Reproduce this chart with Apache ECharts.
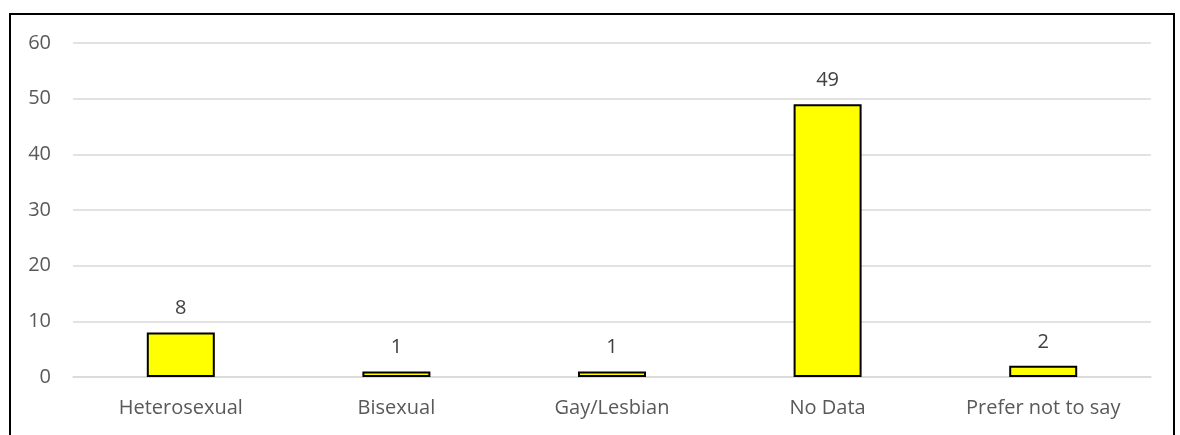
<!DOCTYPE html>
<html>
<head>
<meta charset="utf-8">
<script src="https://cdn.jsdelivr.net/npm/echarts@6/dist/echarts.min.js"></script>
<style>
  html, body { margin: 0; padding: 0; background: #fff; }
  #main { width: 1180px; height: 435px; }
</style>
</head>
<body>
<div id="main"></div>
<script>
// data
const categories = ['Heterosexual', 'Bisexual', 'Gay/Lesbian', 'No Data', 'Prefer not to say']
const counts = [8, 1, 1, 49, 2]
const yTicks = { min: 0, max: 60, step: 10 }

const labelFont = 'Open Sans'
const chart = echarts.init(document.getElementById('main'))

const option = {
  animation: false,
  backgroundColor: '#fff',
  grid: { left: 73, right: 29, top: 43, bottom: 58 },
  xAxis: {
    type: 'category',
    data: categories,
    axisLine: { lineStyle: { color: '#d9d9d9', width: 1.5 } },
    axisTick: { show: false },
    axisLabel: { color: '#595959', fontFamily: labelFont, fontSize: 20, margin: 21 }
  },
  yAxis: {
    type: 'value',
    min: yTicks.min,
    max: yTicks.max,
    interval: yTicks.step,
    axisLine: { show: false },
    axisTick: { show: false },
    splitLine: { lineStyle: { color: '#d9d9d9', width: 1.5 } },
    axisLabel: { color: '#595959', fontFamily: labelFont, fontSize: 20, margin: 22 }
  },
  series: [{
    type: 'bar',
    data: counts,
    barWidth: 68,
    itemStyle: { color: '#ffff00', borderColor: '#000', borderWidth: 2 },
    label: {
      show: true,
      position: 'top',
      distance: 14,
      color: '#404040',
      fontFamily: labelFont,
      fontSize: 20
    }
  }],
  graphic: [{
    type: 'rect',
    shape: { x: 10, y: 14, width: 1164, height: 440 },
    style: { fill: 'none', stroke: '#000', lineWidth: 2 },
    silent: true
  }]
}

chart.setOption(option)
</script>
</body>
</html>
